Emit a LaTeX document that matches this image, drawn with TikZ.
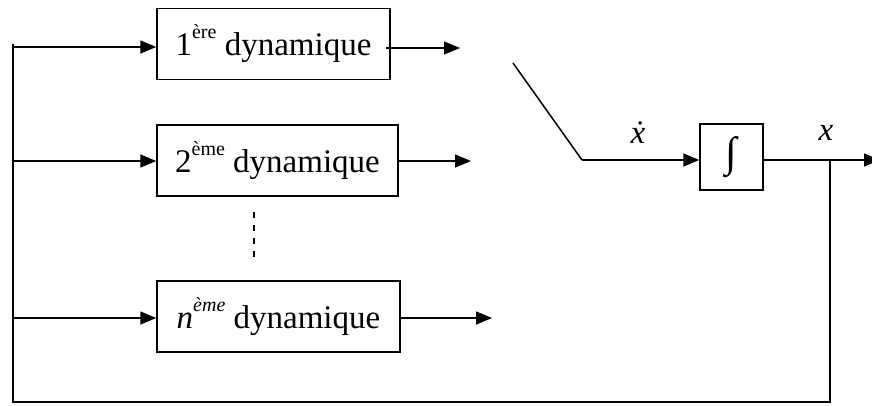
\documentclass[tikz,border=0pt]{standalone}
\usepackage{fontspec}
\setmainfont{Liberation Serif}
\usetikzlibrary{arrows.meta}
\newcommand{\supx}[1]{\raisebox{0.52em}{\fontsize{20}{20}\selectfont #1}}
\begin{document}
\begin{tikzpicture}[x=1pt,y=-1pt,
  line width=1.5pt,
  box/.style={draw,minimum width=#1,minimum height=71pt,inner sep=0pt,font=\fontsize{33}{36}\selectfont},
  box/.default=240pt,
  arr/.style={-{Triangle[length=16pt,width=13pt]}},
  lbl/.style={font=\fontsize{33}{36}\selectfont\itshape}]
\useasboundingbox (0,0) rectangle (872,405);
% blocks
\node[box=233pt] (b1) at (273.5,44) {1\supx{ère} dynamique};
\node[box=241pt] (b2) at (277.5,160.5) {2\supx{ème} dynamique};
\node[box=243pt] (bn) at (278.5,316.5) {\textit{n}\supx{\itshape ème} dynamique};
\node[draw,minimum width=63pt,minimum height=66pt,inner sep=0pt,font=\fontsize{42}{44}\selectfont] (int) at (731.5,157) {∫};
% inputs
\coordinate (top) at (13,44);
\coordinate (l1) at (13,47);
\coordinate (l2) at (13,161);
\coordinate (ln) at (13,318);
\draw[arr] (l1) -- (l1 -| b1.west);
\draw[arr] (l2) -- (l2 -| b2.west);
\draw[arr] (ln) -- (ln -| bn.west);
% outputs
\coordinate (o1) at (460,48);
\coordinate (o2) at (471,161);
\coordinate (on) at (492,318);
\draw[arr] ([xshift=-5pt]o1 -| b1.east) -- (o1);
\draw[arr] (o2 -| b2.east) -- (o2);
\draw[arr] (on -| bn.east) -- (on);
% dots
\coordinate (d1) at (254,212);
\coordinate (d2) at (254,258);
\draw[dashed,dash pattern=on 6pt off 7pt,line width=1.3pt] (d1) -- (d2);
% switch
\coordinate (s1) at (513,63);
\coordinate (s2) at (582,160);
\draw (s1) -- (s2);
\draw[arr] (s2) -- (s2 -| int.west);
\node[lbl] (xd) at (638,133) {ẋ};
% output
\coordinate (j) at (830,160);
\coordinate (oe) at (880,160);
\draw[arr] (int.east |- j) -- (oe);
\node[lbl] (xo) at (826,133) {x};
% feedback
\coordinate (bl) at (13,402);
\draw (j) -- (j |- bl) -- (bl) -- (top);
\end{tikzpicture}
\end{document}
